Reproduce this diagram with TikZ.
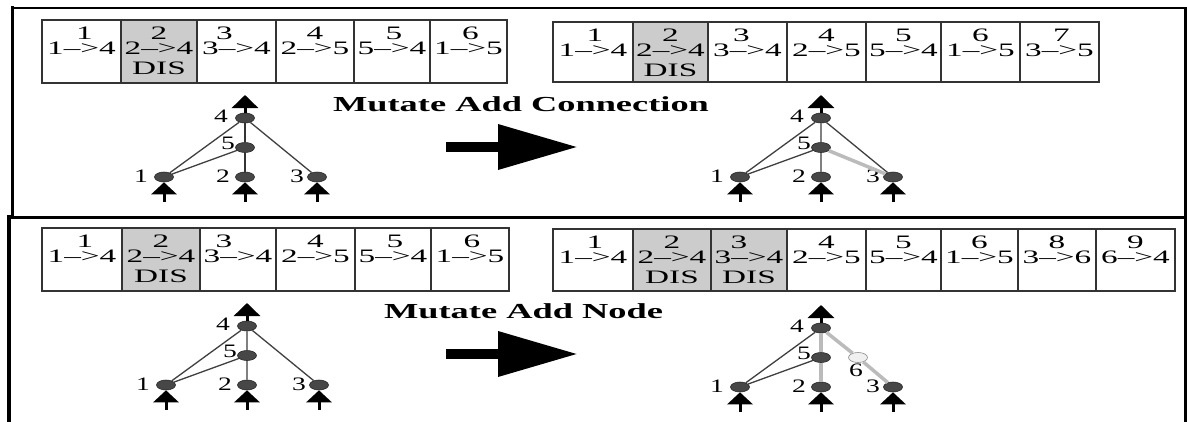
\documentclass[tikz,border=0pt]{standalone}
\usepackage{fontspec}
\setmainfont{Liberation Serif}
\usepackage{graphicx}
\usetikzlibrary{arrows.meta,shapes.geometric,calc}
\definecolor{cellgray}{HTML}{CCCCCC}
\definecolor{nodegray}{HTML}{474747}
\definecolor{newgray}{HTML}{BBBBBB}
\newcommand\sx[2][1.75]{\scalebox{#1}[1]{#2}}
\newcommand\ar[2]{#1\textendash>#2}
\tikzset{
  genebox/.style={draw=black!80, line width=1.4pt, inner sep=0pt},
  gtext/.style={anchor=base, inner sep=0pt, text height=12.5pt, text depth=0pt, font=\fontsize{19}{19}\selectfont},
  titletext/.style={anchor=base, inner sep=0pt, font=\fontsize{21.4}{22}\selectfont\bfseries},
  neuron/.style={ellipse, draw=black!85, line width=0.6pt, fill=nodegray, minimum width=19pt, minimum height=10pt, inner sep=0pt},
  newneuron/.style={neuron, fill=black!6, draw=black!45},
  lbl/.style={inner sep=0pt, text height=12.5pt, text depth=0pt, font=\fontsize{19}{19}\selectfont},
  conn/.style={draw=black!75, line width=1.3pt},
  vconn/.style={draw=black!80, line width=2pt},
  midconn/.style={draw=black!50, line width=2.6pt},
  newconn/.style={draw=newgray, line width=3.5pt},
  inarrow/.style={draw=black, line width=3pt, -{Triangle[length=12pt,width=25pt]}},
  outarrow/.style={draw=black, line width=3pt, -{Triangle[length=13pt,width=26pt]}},
  bigarrow/.style={draw=black, line width=10pt, -{Triangle[length=80pt,width=43pt]}},
  frame/.style={draw=black, line cap=rect}
}
% gene: name, x1, x2, ytop, ybot, fill, number, connection, number x-offset
\newcommand\gene[9]{%
  \node[genebox, fill=#6, minimum width={(#3-#2)*1pt}, minimum height={(#5-#4)*1pt}] (#1) at ({(#2+#3)/2},{(#4+#5)/2}) {};
  \node[gtext] (#1num) at ($(#1.north)+(#9,20)$) {\sx{#7}};
  \node[gtext] (#1con) at ($(#1.north)+(0,35.5)$) {\sx{#8}};
}
\newcommand\dis[1]{\node[gtext] (#1dis) at ($(#1.north)+(0,55)$) {\sx{DIS}};}
% network base: prefix, x of node 4, y of node 4
\newcommand\netbase[3]{%
  \node[neuron] (#1n4) at (#2,#3) {};
  \node[neuron] (#1n5) at (#2,#3+29.5) {};
  \node[neuron] (#1n1) at (#2-81,#3+59) {};
  \node[neuron] (#1n2) at (#2,#3+59) {};
  \node[neuron] (#1n3) at (#2+72,#3+59) {};
  \coordinate (#1o) at (#2,#3-23);
  \coordinate (#1i1) at (#2-81,#3+84);
  \coordinate (#1i2) at (#2,#3+84);
  \coordinate (#1i3) at (#2+72,#3+84);
  \draw[outarrow] (#1n4) -- (#1o);
  \draw[inarrow] (#1i1) -- (#1n1);
  \draw[inarrow] (#1i2) -- (#1n2);
  \draw[inarrow] (#1i3) -- (#1n3);
  \node[lbl] (#1l4) at ($(#1n4)+(-24,-2)$) {\sx[1.45]{4}};
  \node[lbl] (#1l5) at ($(#1n5)+(-17,-4)$) {\sx[1.45]{5}};
  \node[lbl] (#1l1) at ($(#1n1)+(-23,-1)$) {\sx[1.45]{1}};
  \node[lbl] (#1l2) at ($(#1n2)+(-22,-1)$) {\sx[1.45]{2}};
  \node[lbl] (#1l3) at ($(#1n3)+(-20,-1)$) {\sx[1.45]{3}};
}
\begin{document}
\begin{tikzpicture}[x=1pt,y=-1pt]
\useasboundingbox (0,0) rectangle (1187,421);
\fill[white] (0,0) rectangle (1187,421);
% frame
\draw[frame, line width=2pt] (12,8) -- (1185.5,8);
\draw[frame, line width=3.2pt] (12.3,8) -- (12.3,217);
\draw[frame, line width=3pt] (9,217.5) -- (1185.5,217.5);
\draw[frame, line width=3.4pt] (8.8,217) -- (8.8,421);
\draw[frame, line width=2.5pt] (1185.5,8) -- (1185.5,421);

% ---------- top: Mutate Add Connection ----------
\gene{ta1}{42}{121}{20}{83}{white}{1}{\ar14}{3}
\gene{ta2}{121}{197}{20}{83}{cellgray}{2}{\ar24}{0}
\gene{ta3}{197}{276}{20}{83}{white}{3}{\ar34}{-12}
\gene{ta4}{276}{354}{20}{83}{white}{4}{\ar25}{0}
\gene{ta5}{354}{430}{20}{83}{white}{5}{\ar54}{2}
\gene{ta6}{430}{507}{20}{83}{white}{6}{\ar15}{2}
\dis{ta2}

\gene{tb1}{553}{633}{22}{82}{white}{1}{\ar14}{2}
\gene{tb2}{633}{708}{22}{82}{cellgray}{2}{\ar24}{0}
\gene{tb3}{708}{787}{22}{82}{white}{3}{\ar34}{-6}
\gene{tb4}{787}{866}{22}{82}{white}{4}{\ar25}{0}
\gene{tb5}{866}{941}{22}{82}{white}{5}{\ar54}{0}
\gene{tb6}{941}{1020}{22}{82}{white}{6}{\ar15}{0}
\gene{tb7}{1020}{1099}{22}{82}{white}{7}{\ar35}{2}
\dis{tb2}

\node[titletext] (t1) at (521,111.5) {\sx[1.7]{Mutate Add Connection}};
\coordinate (a1s) at (446,147);
\coordinate (a1e) at (578,147);
\draw[bigarrow] (a1s) -- (a1e);

\netbase{ga}{245}{118}
\draw[conn] (gan1) -- (gan4);
\draw[conn] (gan1) -- (gan5);
\draw[conn] (gan3) -- (gan4);
\draw[vconn] (gan5) -- (gan4);
\draw[vconn] (gan2) -- (gan5);

\netbase{gb}{821}{118}
\draw[conn] (gbn1) -- (gbn4);
\draw[conn] (gbn1) -- (gbn5);
\draw[conn] (gbn3) -- (gbn4);
\draw[midconn] (gbn5) -- (gbn4);
\draw[midconn] (gbn2) -- (gbn5);
\draw[newconn] (gbn3) -- (gbn5);

% ---------- bottom: Mutate Add Node ----------
\gene{ba1}{42}{122}{228}{291}{white}{1}{\ar14}{3}
\gene{ba2}{122}{200}{228}{291}{cellgray}{2}{\ar24}{0}
\gene{ba3}{200}{276}{228}{291}{white}{3}{\ar34}{-14}
\gene{ba4}{276}{355}{228}{291}{white}{4}{\ar25}{0}
\gene{ba5}{355}{431}{228}{291}{white}{5}{\ar54}{2}
\gene{ba6}{431}{509}{228}{291}{white}{6}{\ar15}{2}
\dis{ba2}

\gene{bb1}{553}{633}{229}{291}{white}{1}{\ar14}{2}
\gene{bb2}{633}{711}{229}{291}{cellgray}{2}{\ar24}{0}
\gene{bb3}{711}{787}{229}{291}{cellgray}{3}{\ar34}{-10}
\gene{bb4}{787}{866}{229}{291}{white}{4}{\ar25}{0}
\gene{bb5}{866}{941}{229}{291}{white}{5}{\ar54}{0}
\gene{bb6}{941}{1018}{229}{291}{white}{6}{\ar15}{0}
\gene{bb7}{1018}{1096}{229}{291}{white}{8}{\ar36}{0}
\gene{bb8}{1096}{1175}{229}{291}{white}{9}{\ar64}{0}
\dis{bb2}
\dis{bb3}

\node[titletext] (t2) at (523.5,318) {\sx[1.7]{Mutate Add Node}};
\coordinate (a2s) at (446,354);
\coordinate (a2e) at (578,354);
\draw[bigarrow] (a2s) -- (a2e);

\netbase{gc}{247}{326}
\draw[conn] (gcn1) -- (gcn4);
\draw[conn] (gcn1) -- (gcn5);
\draw[conn] (gcn3) -- (gcn4);
\draw[midconn] (gcn5) -- (gcn4);
\draw[midconn] (gcn2) -- (gcn5);

\netbase{gd}{821}{328}
\node[newneuron] (gdn6) at (858,357.5) {};
\node[lbl] (gdl6) at ($(gdn6)+(-2,13)$) {\sx[1.45]{6}};
\draw[conn] (gdn1) -- (gdn4);
\draw[conn] (gdn1) -- (gdn5);
\draw[newconn] (gdn5) -- (gdn4);
\draw[newconn] (gdn2) -- (gdn5);
\draw[newconn] (gdn6) -- (gdn4);
\draw[newconn] (gdn3) -- (gdn6);
\end{tikzpicture}
\end{document}
